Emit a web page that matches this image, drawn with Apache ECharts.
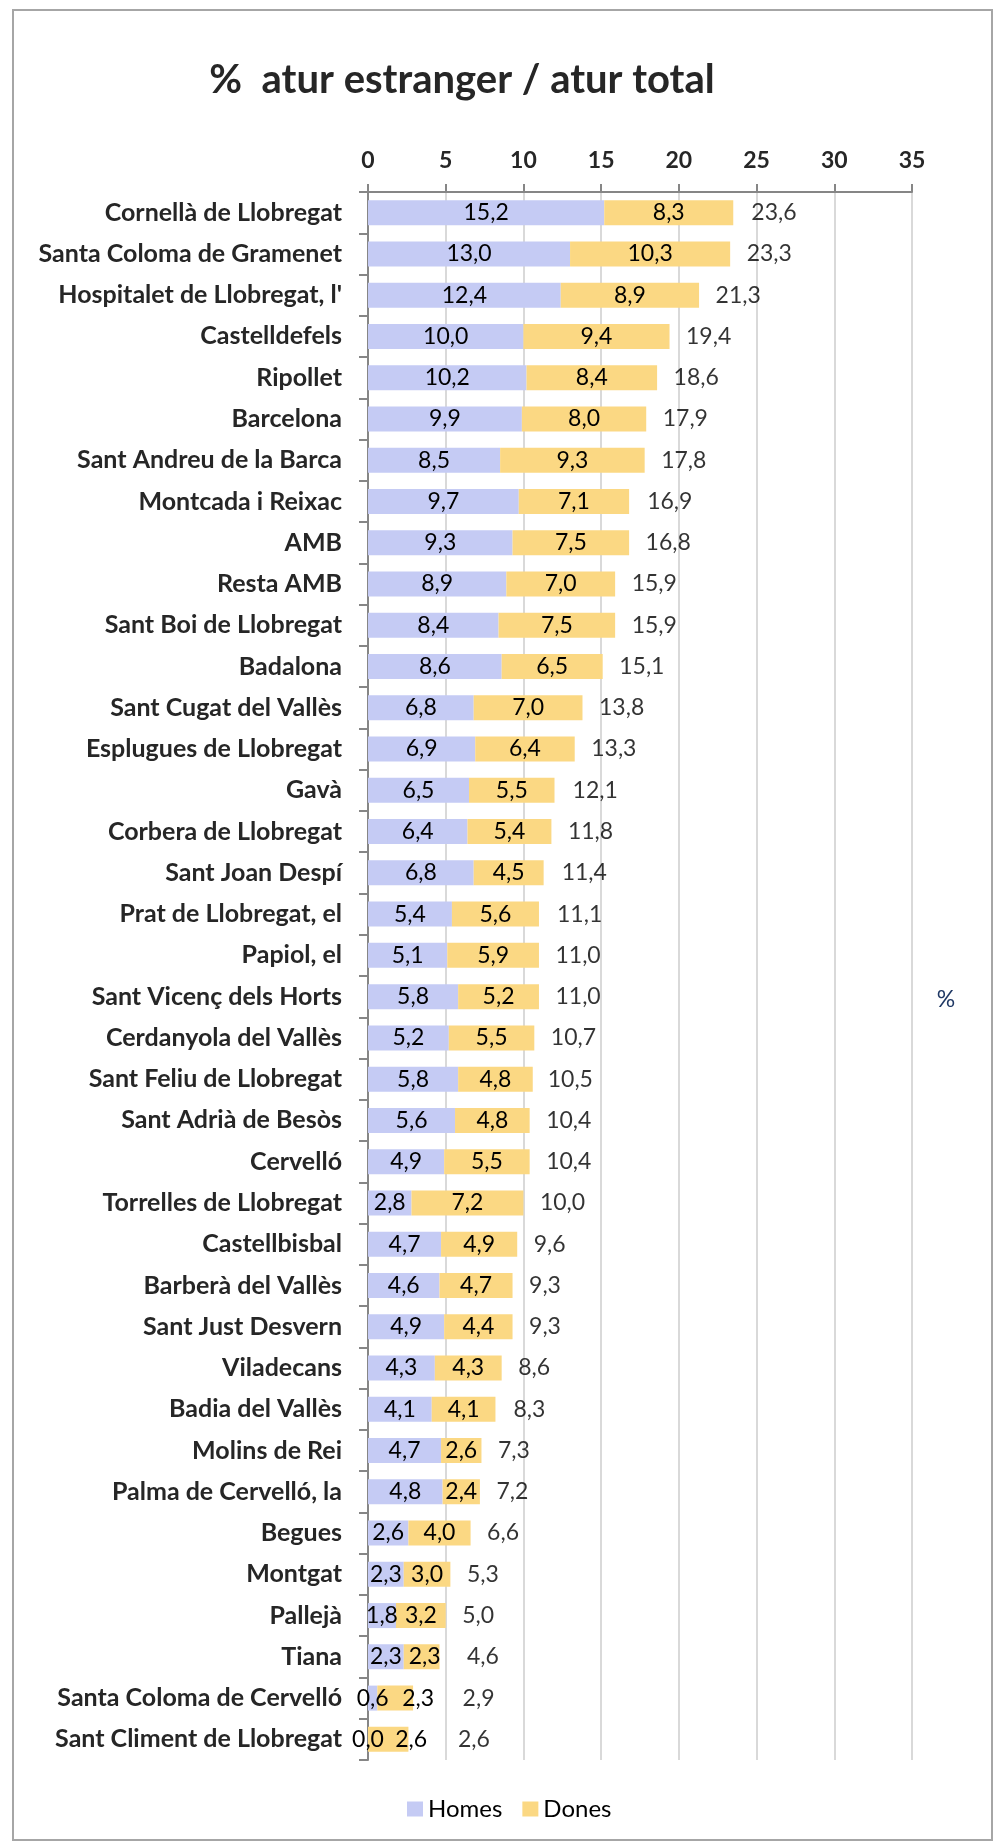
<!DOCTYPE html>
<html>
<head>
<meta charset="utf-8">
<script src="https://cdn.jsdelivr.net/npm/echarts@6/dist/echarts.min.js"></script>
<style>
  html, body { margin: 0; padding: 0; background: #fff; }
  #chart { width: 1000px; height: 1842px; }
</style>
</head>
<body>
<div id="chart"></div>
<script>
var municipis = [
  "Cornellà de Llobregat", "Santa Coloma de Gramenet", "Hospitalet de Llobregat, l'",
  "Castelldefels", "Ripollet", "Barcelona", "Sant Andreu de la Barca",
  "Montcada i Reixac", "AMB", "Resta AMB", "Sant Boi de Llobregat", "Badalona",
  "Sant Cugat del Vallès", "Esplugues de Llobregat", "Gavà", "Corbera de Llobregat",
  "Sant Joan Despí", "Prat de Llobregat, el", "Papiol, el", "Sant Vicenç dels Horts",
  "Cerdanyola del Vallès", "Sant Feliu de Llobregat", "Sant Adrià de Besòs", "Cervelló",
  "Torrelles de Llobregat", "Castellbisbal", "Barberà del Vallès", "Sant Just Desvern",
  "Viladecans", "Badia del Vallès", "Molins de Rei", "Palma de Cervelló, la",
  "Begues", "Montgat", "Pallejà", "Tiana", "Santa Coloma de Cervelló",
  "Sant Climent de Llobregat"
];
var homes = [15.2, 13.0, 12.4, 10.0, 10.2, 9.9, 8.5, 9.7, 9.3, 8.9, 8.4, 8.6, 6.8, 6.9,
  6.5, 6.4, 6.8, 5.4, 5.1, 5.8, 5.2, 5.8, 5.6, 4.9, 2.8, 4.7, 4.6, 4.9, 4.3, 4.1,
  4.7, 4.8, 2.6, 2.3, 1.8, 2.3, 0.6, 0.0];
var dones = [8.3, 10.3, 8.9, 9.4, 8.4, 8.0, 9.3, 7.1, 7.5, 7.0, 7.5, 6.5, 7.0, 6.4,
  5.5, 5.4, 4.5, 5.6, 5.9, 5.2, 5.5, 4.8, 4.8, 5.5, 7.2, 4.9, 4.7, 4.4, 4.3, 4.1,
  2.6, 2.4, 4.0, 3.0, 3.2, 2.3, 2.3, 2.6];
var totals = [23.6, 23.3, 21.3, 19.4, 18.6, 17.9, 17.8, 16.9, 16.8, 15.9, 15.9, 15.1,
  13.8, 13.3, 12.1, 11.8, 11.4, 11.1, 11.0, 11.0, 10.7, 10.5, 10.4, 10.4, 10.0, 9.6,
  9.3, 9.3, 8.6, 8.3, 7.3, 7.2, 6.6, 5.3, 5.0, 4.6, 2.9, 2.6];
var xTicks = [0, 5, 10, 15, 20, 25, 30, 35];

function fmt(v) {
  return v.toFixed(1).replace('.', ',');
}

var chart = echarts.init(document.getElementById('chart'), null, { renderer: 'canvas' });

// small segments: push labels apart like the spreadsheet did
var donesData = dones.map(function (v, i) {
  if (homes[i] < 1) return { value: v, label: { offset: [23, 0] } };
  if (v + homes[i] < 5) return { value: v, label: { offset: [3, 0] } };
  return v;
});
var totalPoints = totals.map(function (t, i) {
  var d = t < 3 ? 49 : (t < 5 ? 27 : 16);
  return { value: [t, municipis[i]], label: { distance: d } };
});

var valueLabel = {
  show: true,
  position: 'inside',
  color: '#000',
  fontFamily: 'Lato',
  fontSize: 23,
  formatter: function (p) { return fmt(p.value); }
};

var option = {
  backgroundColor: '#fff',
  animation: false,
  graphic: [
    {
      type: 'rect',
      shape: { x: 13, y: 10, width: 979, height: 1830 },
      style: { fill: 'none', stroke: '#a6a6a6', lineWidth: 2 },
      silent: true
    },
    {
      type: 'text',
      x: 462, y: 80,
      style: {
        text: '%  atur estranger / atur total',
        font: 'bold 40px Lato',
        fill: '#262626',
        textAlign: 'center',
        textVerticalAlign: 'middle'
      }
    },
    {
      type: 'text',
      x: 946, y: 1000,
      style: {
        text: '%',
        font: '23px Lato',
        fill: '#1f3864',
        textAlign: 'center',
        textVerticalAlign: 'middle'
      }
    }
  ],
  legend: {
    data: ['Homes', 'Dones'],
    left: 402,
    top: 1792,
    itemWidth: 16,
    itemHeight: 15,
    itemGap: 20,
    icon: 'rect',
    textStyle: { fontFamily: 'Lato', fontSize: 24, color: '#000' }
  },
  grid: { left: 368, right: 88, top: 192, bottom: 82, containLabel: false },
  xAxis: {
    type: 'value',
    position: 'top',
    min: xTicks[0],
    max: xTicks[xTicks.length - 1],
    interval: 5,
    axisLine: { show: true, lineStyle: { color: '#868686', width: 2 } },
    axisTick: { show: true, length: 8, lineStyle: { color: '#868686', width: 2 } },
    axisLabel: {
      margin: 20,
      fontFamily: 'Lato',
      fontWeight: 'bold',
      fontSize: 23,
      color: '#262626'
    },
    splitLine: { show: true, lineStyle: { color: '#d9d9d9', width: 2 } }
  },
  yAxis: {
    type: 'category',
    data: municipis,
    inverse: true,
    axisLine: { show: true, lineStyle: { color: '#868686', width: 2 } },
    axisTick: { show: true, length: 9, lineStyle: { color: '#868686', width: 2 } },
    axisLabel: {
      interval: 0,
      margin: 26,
      fontFamily: 'Lato',
      fontWeight: 'bold',
      fontSize: 25,
      color: '#262626'
    }
  },
  series: [
    {
      name: 'Homes',
      type: 'bar',
      stack: 'total',
      barWidth: 25,
      data: homes,
      itemStyle: { color: '#c5cbf4' },
      label: valueLabel
    },
    {
      name: 'Dones',
      type: 'bar',
      stack: 'total',
      barWidth: 25,
      data: donesData,
      itemStyle: { color: '#fbd883' },
      label: valueLabel
    },
    {
      name: 'Total',
      type: 'scatter',
      data: totalPoints,
      symbolSize: 1,
      itemStyle: { color: 'rgba(0,0,0,0)' },
      label: {
        show: true,
        position: 'right',
        distance: 16,
        color: '#000',
        fontFamily: 'Lato',
        fontSize: 23,
        formatter: function (p) { return fmt(p.value[0]); }
      }
    }
  ]
};

chart.setOption(option);
</script>
</body>
</html>
